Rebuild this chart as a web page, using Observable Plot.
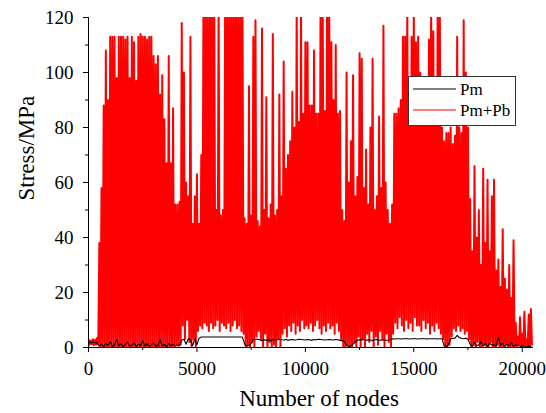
<!DOCTYPE html>
<html>
<head>
<meta charset="utf-8">
<script src="https://cdn.jsdelivr.net/npm/d3@7"></script>
<script src="https://cdn.jsdelivr.net/npm/@observablehq/plot@0.6"></script>
<style>
  html, body { margin: 0; padding: 0; background: #fff; }
  #wrap { position: relative; width: 546px; height: 413px; overflow: hidden; }
  #wrap svg, #wrap svg text, #wrap svg g { font-family: 'Liberation Serif', 'Times New Roman', serif !important; }
  #legend { position: absolute; left: 408px; top: 76px; }
</style>
</head>
<body>
<div id="wrap"></div>
<script>
// Sampling step along "Number of nodes" (one peak + one trough per step)
const nodeStep = 100;

// Pm+Pb peaks, nodes 0..20400 (step 100)
const pmPbPeak = [
  3, 2.5, 3, 2.8, 3.5, 38, 58, 88, 108, 90,
  113, 113, 113, 98, 113, 113, 113, 112, 113, 98,
  113, 111, 97, 113, 114, 113, 113, 112, 113, 113,
  106, 103, 106, 92, 99, 83, 67, 106, 67, 87,
  52, 52, 53, 118, 100, 60, 55, 113, 45, 55,
  63, 45, 70, 125, 125, 122, 125, 125, 125, 50,
  125, 48, 50, 125, 125, 125, 125, 125, 125, 125,
  125, 125, 47, 45, 95, 48, 113, 119, 46, 44,
  116, 50, 91, 47, 52, 114, 48, 50, 92, 55,
  104, 65, 70, 75, 93, 80, 125, 82, 125, 85,
  111, 111, 88, 88, 108, 85, 85, 125, 125, 86,
  125, 125, 111, 90, 110, 85, 86, 50, 46, 100,
  60, 75, 99, 55, 62, 107, 105, 58, 72, 52,
  80, 105, 50, 55, 84, 58, 117, 60, 50, 45,
  52, 85, 85, 87, 90, 113, 113, 125, 95, 113,
  125, 111, 113, 100, 86, 86, 86, 112, 125, 115,
  85, 125, 125, 80, 75, 78, 78, 80, 74, 77,
  113, 80, 78, 119, 100, 80, 54, 35, 66, 40,
  50, 30, 65, 38, 61, 35, 55, 61, 28, 32,
  22, 43, 25, 21, 30, 18, 39, 9, 4, 11,
  5, 13, 3, 12, 14
];

// Pm+Pb troughs, nodes 50..20450 (step 100)
const pmPbTrough = [
  1, 1.2, 0.8, 1, 1.2, 0, 0, 0, 0, 0,
  0, 0, 0, 0, 0, 0, 0, 0, 0, 0,
  0, 0, 0, 0, 0, 0, 0, 0, 0, 0,
  0, 0, 0, 0, 0, 0, 0, 0, 0, 0,
  1, 0.5, 1, 8, 3, 10, 2, 0.5, 3, 0.5,
  6, 8, 7, 9, 8, 6, 9, 7, 8, 10,
  6, 9, 8, 7, 9, 6, 8, 10, 7, 8,
  6, 5, 0, 1, 0, 2, 0, 4, 6, 3,
  0, 5, 0, 2, 0, 1, 0, 3, 0, 5,
  7, 4, 8, 6, 9, 5, 8, 6, 10, 7,
  8, 7, 9, 6, 8, 10, 7, 5, 8, 6,
  9, 7, 8, 5, 9, 6, 3, 0, 0, 1,
  0, 0, 2, 0, 4, 0, 3, 0, 5, 2,
  6, 0, 4, 1, 6, 3, 0, 5, 2, 0,
  5, 9, 7, 11, 8, 6, 10, 7, 9, 6,
  11, 8, 8, 6, 10, 7, 9, 5, 8, 6,
  9, 7, 5, 3, 0, 0, 1, 4, 7, 6,
  8, 6, 7, 5, 6, 3, 0, 1, 0, 2,
  0, 0, 1, 0, 0, 2, 0, 0, 1, 0,
  0, 0, 1, 0, 0, 0, 0, 0, 1, 0,
  0, 1, 0, 0, 1
];

// Pm, nodes 0..20400 (step 100)
const pmValues = [
  1.8, 1.7, 1.9, 1.8, 1.6, 0.5, 1.2, 0.3, 1.5, 0.8,
  2.2, 0.4, 1.0, 2.8, 0.6, 1.4, 0.3, 1.1, 2.0, 0.5,
  0.9, 1.6, 0.4, 1.2, 0.7, 2.5, 0.6, 1.3, 0.4, 1.0,
  1.8, 0.5, 0.8, 2.9, 0.6, 1.1, 0.4, 1.5, 0.7, 1.2,
  0.5, 0.9, 0.8, 2.6, 3.0, 1.2, 3.2, 2.8, 0.6, 3.0,
  1.0, 3.4, 3.8, 3.8, 3.8, 3.8, 3.8, 3.8, 3.8, 3.8,
  3.8, 3.8, 3.8, 3.8, 3.8, 3.8, 3.8, 3.8, 3.8, 3.8,
  3.8, 3.8, 1.2, 0.5, 0.8, 1.5, 3.0, 2.9, 3.1, 2.7,
  2.5, 2.8, 2.6, 2.8, 2.5, 2.9, 2.7, 2.8, 3.0, 2.8,
  2.7, 2.9, 2.6, 2.8, 2.9, 2.7, 2.8, 3.0, 2.9, 2.8,
  2.7, 2.9, 2.8, 2.6, 2.9, 2.8, 3.0, 2.9, 2.8, 2.7,
  2.8, 2.9, 2.8, 2.7, 2.9, 2.8, 2.6, 2.5, 2.2, 0.8,
  0.4, 0.6, 1.2, 2.0, 2.6, 2.8, 2.7, 2.9, 2.6, 2.8,
  2.7, 2.5, 2.8, 2.9, 2.6, 2.7, 2.8, 2.6, 2.7, 2.9,
  3.2, 3.1, 3.2, 3.2, 3.1, 3.2, 3.2, 3.2, 3.1, 3.2,
  3.2, 3.2, 3.1, 3.2, 3.2, 3.2, 3.1, 3.2, 3.2, 3.2,
  3.2, 3.1, 3.2, 3.2, 0.6, 0.3, 1.0, 3.2, 3.3, 3.4,
  4.4, 3.6, 3.3, 3.2, 3.4, 3.0, 1.2, 0.4, 1.8, 0.6,
  1.0, 2.2, 0.5, 1.4, 0.3, 1.6, 0.8, 1.1, 0.4, 3.8,
  0.9, 1.5, 0.3, 1.2, 0.6, 1.9, 0.4, 1.0, 0.7, 0.5,
  0.4, 0.6, 0.3, 0.5, 0.4
];

const xTicks = [0, 5000, 10000, 15000, 20000];
const xMinorTicks = [2500, 7500, 12500, 17500];
const yTicks = [0, 20, 40, 60, 80, 100, 120];
const yMinorTicks = [10, 30, 50, 70, 90, 110];
const seriesNames = ["Pm", "Pm+Pb"];
const seriesColors = ["#000000", "#ff0000"];

// Build tables
const redData = [];
pmPbPeak.forEach((v, i) => {
  redData.push({node: i * nodeStep, v});
  if (i < pmPbTrough.length) redData.push({node: i * nodeStep + nodeStep / 2, v: pmPbTrough[i]});
});
const blackData = pmValues.map((v, i) => ({node: i * nodeStep, v}));

const font = "Liberation Serif";

const chart = Plot.plot({
  width: 546,
  height: 413,
  marginLeft: 88,
  marginRight: 13,
  marginTop: 17,
  marginBottom: 66,
  style: "font-family: 'Liberation Serif', serif; background: #fff; color: #000; overflow: visible;",
  x: {domain: [0, 20520]},
  y: {domain: [0, 120]},
  marks: [
    Plot.line(redData, {x: "node", y: "v", stroke: seriesColors[1], strokeWidth: 2.0, clip: true}),
    Plot.line(blackData, {x: "node", y: "v", stroke: seriesColors[0], strokeWidth: 1.1, clip: true}),
    Plot.ruleY([0], {stroke: "#000", strokeWidth: 1}),
    Plot.ruleX([0], {stroke: "#000", strokeWidth: 1}),
    Plot.axisX({ticks: xTicks, tickSize: 5, tickPadding: 9, fontSize: 19, fontFamily: font, tickFormat: d => String(d), label: null, stroke: "#000"}),
    Plot.axisX({ticks: xMinorTicks, tickSize: 3, tickFormat: () => "", label: null, stroke: "#000"}),
    Plot.axisY({ticks: yTicks, tickSize: 5, tickPadding: 10, fontSize: 19, fontFamily: font, tickFormat: d => String(d), label: null, stroke: "#000"}),
    Plot.axisY({ticks: yMinorTicks, tickSize: 3, tickFormat: () => "", label: null, stroke: "#000"}),
    Plot.text(["Number of nodes"], {frameAnchor: "bottom", lineAnchor: "bottom", dx: 8, dy: 58, fontSize: 23, fontFamily: font, fill: "#000"}),
    Plot.text(["Stress/MPa"], {frameAnchor: "left", lineAnchor: "bottom", rotate: -90, dx: -55, dy: 18, fontSize: 23, fontFamily: font, fill: "#000"})
  ]
});
document.getElementById("wrap").appendChild(chart);

// Legend overlay
const legend = d3.select("#wrap").append("svg")
  .attr("id", "legend")
  .attr("width", 109).attr("height", 51)
  .style("font-family", "'Liberation Serif', serif");
legend.append("rect")
  .attr("x", 0.5).attr("y", 0.5).attr("width", 107).attr("height", 49)
  .attr("fill", "#fff").attr("stroke", "#333").attr("stroke-width", 1);
seriesNames.forEach((name, i) => {
  const cy = 13 + i * 21;
  legend.append("line")
    .attr("x1", 5).attr("x2", 48).attr("y1", cy).attr("y2", cy)
    .attr("stroke", seriesColors[i]).attr("stroke-width", 1);
  legend.append("text")
    .attr("x", 52).attr("y", cy + 6)
    .attr("font-size", 17).attr("fill", "#000")
    .text(name);
});
</script>
</body>
</html>
